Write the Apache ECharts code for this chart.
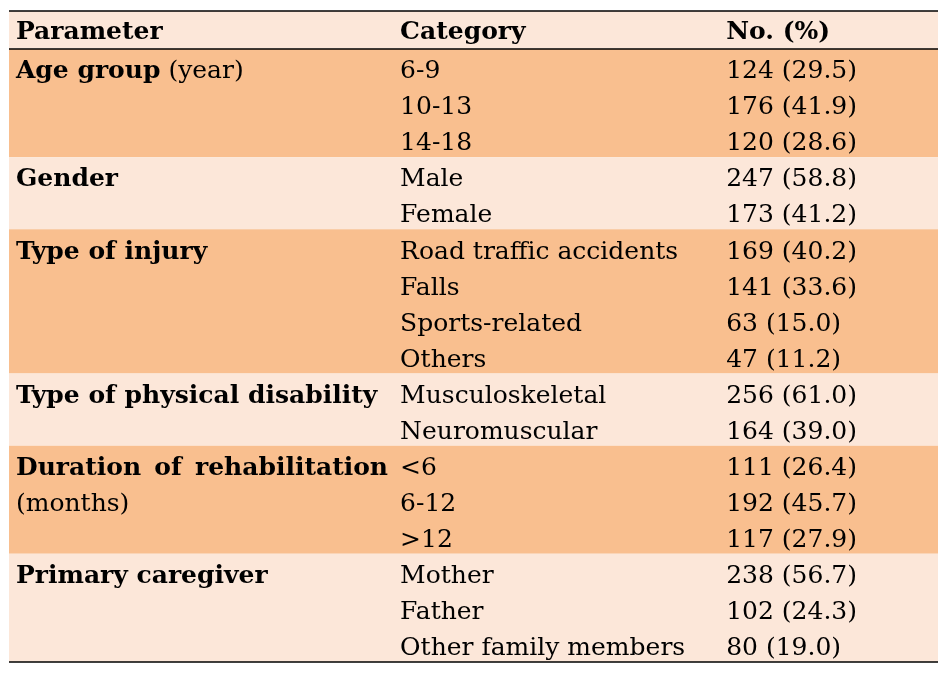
<!DOCTYPE html>
<html>
<head>
<meta charset="utf-8">
<script src="https://cdn.jsdelivr.net/npm/echarts@6/dist/echarts.min.js"></script>
<style>
  html, body { margin: 0; padding: 0; background: #fff; }
  #main { width: 949px; height: 673px; }
</style>
</head>
<body>
<div id="main"></div>
<script>
const headers = ['Parameter', 'Category', 'No. (%)'];
const groups = ['Age group', 'Gender', 'Type of injury', 'Type of physical disability', 'Duration of rehabilitation', 'Primary caregiver'];
const groupNotes = [' (year)', '', '', '', '\n(months)', ''];
const groupSizes = [3, 2, 4, 2, 3, 3];
const categories = ['6-9', '10-13', '14-18', 'Male', 'Female', 'Road traffic accidents', 'Falls',
  'Sports-related', 'Others', 'Musculoskeletal', 'Neuromuscular', '<6', '6-12', '>12',
  'Mother', 'Father', 'Other family members'];
const counts = [124, 176, 120, 247, 173, 169, 141, 63, 47, 256, 164, 111, 192, 117, 238, 102, 80];
const percents = [29.5, 41.9, 28.6, 58.8, 41.2, 40.2, 33.6, 15.0, 11.2, 61.0, 39.0, 26.4, 45.7, 27.9, 56.7, 24.3, 19.0];

const chart = echarts.init(document.getElementById('main'));

const FONT = '"DejaVu Serif", serif';
const DARK = '#F9BF8F';
const LIGHT = '#FCE7D9';
const colStart = [0.0075, 0.421, 0.772];
const col1End = 0.408;  // justified first column right edge
const headTop = -1.054;
const textOff = 0.63;   // text middle, below row top

// bands: header + one per group
var bandData = [[headTop, 0, -1]];
var start = 0;
groupSizes.forEach(function (n, i) {
  bandData.push([start, start + n, i]);
  start += n;
});

var measureCtx = document.createElement('canvas').getContext('2d');
function textWidth(s, bold) {
  measureCtx.font = (bold ? 'bold ' : '') + '25px ' + FONT;
  return measureCtx.measureText(s).width;
}

function txt(x, y, text, bold, align) {
  return {
    type: 'text',
    style: {
      x: x, y: y, text: text,
      font: (bold ? 'bold ' : '') + '25px ' + FONT,
      fill: '#000',
      verticalAlign: 'middle', align: align || 'left'
    }
  };
}

function renderBand(params, api) {
  var y0 = api.value(0), y1 = api.value(1), g = api.value(2);
  var p0 = api.coord([0, y0]), p1 = api.coord([1, y1]);
  var children = [{
    type: 'rect',
    shape: { x: p0[0], y: p0[1], width: p1[0] - p0[0], height: p1[1] - p0[1] },
    style: { fill: (g >= 0 && g % 2 === 0) ? DARK : LIGHT }
  }];
  if (g < 0) {
    headers.forEach(function (h, i) {
      var p = api.coord([colStart[i], y0 + textOff - 0.03]);
      children.push(txt(p[0], p[1], h, true));
    });
  } else {
    var p = api.coord([colStart[0], y0 + textOff]);
    var note = groupNotes[g];
    if (note.charAt(0) === '\n') {
      // justified label spread over the first column
      var words = groups[g].split(' ');
      var right = api.coord([col1End, y0])[0];
      var total = 0;
      words.forEach(function (w) { total += textWidth(w, true); });
      var gap = (right - p[0] - total) / (words.length - 1);
      var x = p[0];
      words.forEach(function (w) {
        children.push(txt(x, p[1], w, true));
        x += textWidth(w, true) + gap;
      });
      var q = api.coord([colStart[0], y0 + 1 + textOff]);
      children.push(txt(q[0], q[1], note.slice(1), false));
    } else {
      children.push({
        type: 'text',
        style: {
          x: p[0], y: p[1],
          text: '{b|' + groups[g] + '}' + (note ? '{n|' + note + '}' : ''),
          rich: {
            b: { font: 'bold 25px ' + FONT, fill: '#000' },
            n: { font: '25px ' + FONT, fill: '#000' }
          },
          verticalAlign: 'middle', align: 'left'
        }
      });
    }
  }
  return { type: 'group', children: children };
}

function renderRow(params, api) {
  var r = api.value(0);
  var i = params.dataIndex;
  var a = api.coord([colStart[1], r + textOff]);
  var b = api.coord([colStart[2], r + textOff]);
  return {
    type: 'group',
    children: [
      txt(a[0], a[1], categories[i], false),
      txt(b[0], b[1], counts[i] + ' (' + percents[i].toFixed(1) + ')', false)
    ]
  };
}

function renderRule(params, api) {
  var p0 = api.coord([0, api.value(0)]), p1 = api.coord([1, api.value(0)]);
  return {
    type: 'line',
    shape: { x1: p0[0], y1: p0[1], x2: p1[0], y2: p1[1] },
    style: { stroke: '#000', lineWidth: 1.6 }
  };
}

var option = {
  animation: false,
  grid: { left: 9, right: 11, top: 11, bottom: 11 },
  xAxis: { type: 'value', min: 0, max: 1, show: false },
  yAxis: { type: 'value', min: headTop, max: 17, inverse: true, show: false },
  series: [
    { type: 'custom', renderItem: renderBand, data: bandData, clip: false, silent: true, z: 1 },
    { type: 'custom', renderItem: renderRow, data: categories.map(function (c, i) { return [i]; }), clip: false, silent: true, z: 2 },
    { type: 'custom', renderItem: renderRule, data: [[headTop], [0], [17]], clip: false, silent: true, z: 3 }
  ]
};

chart.setOption(option);
</script>
</body>
</html>
